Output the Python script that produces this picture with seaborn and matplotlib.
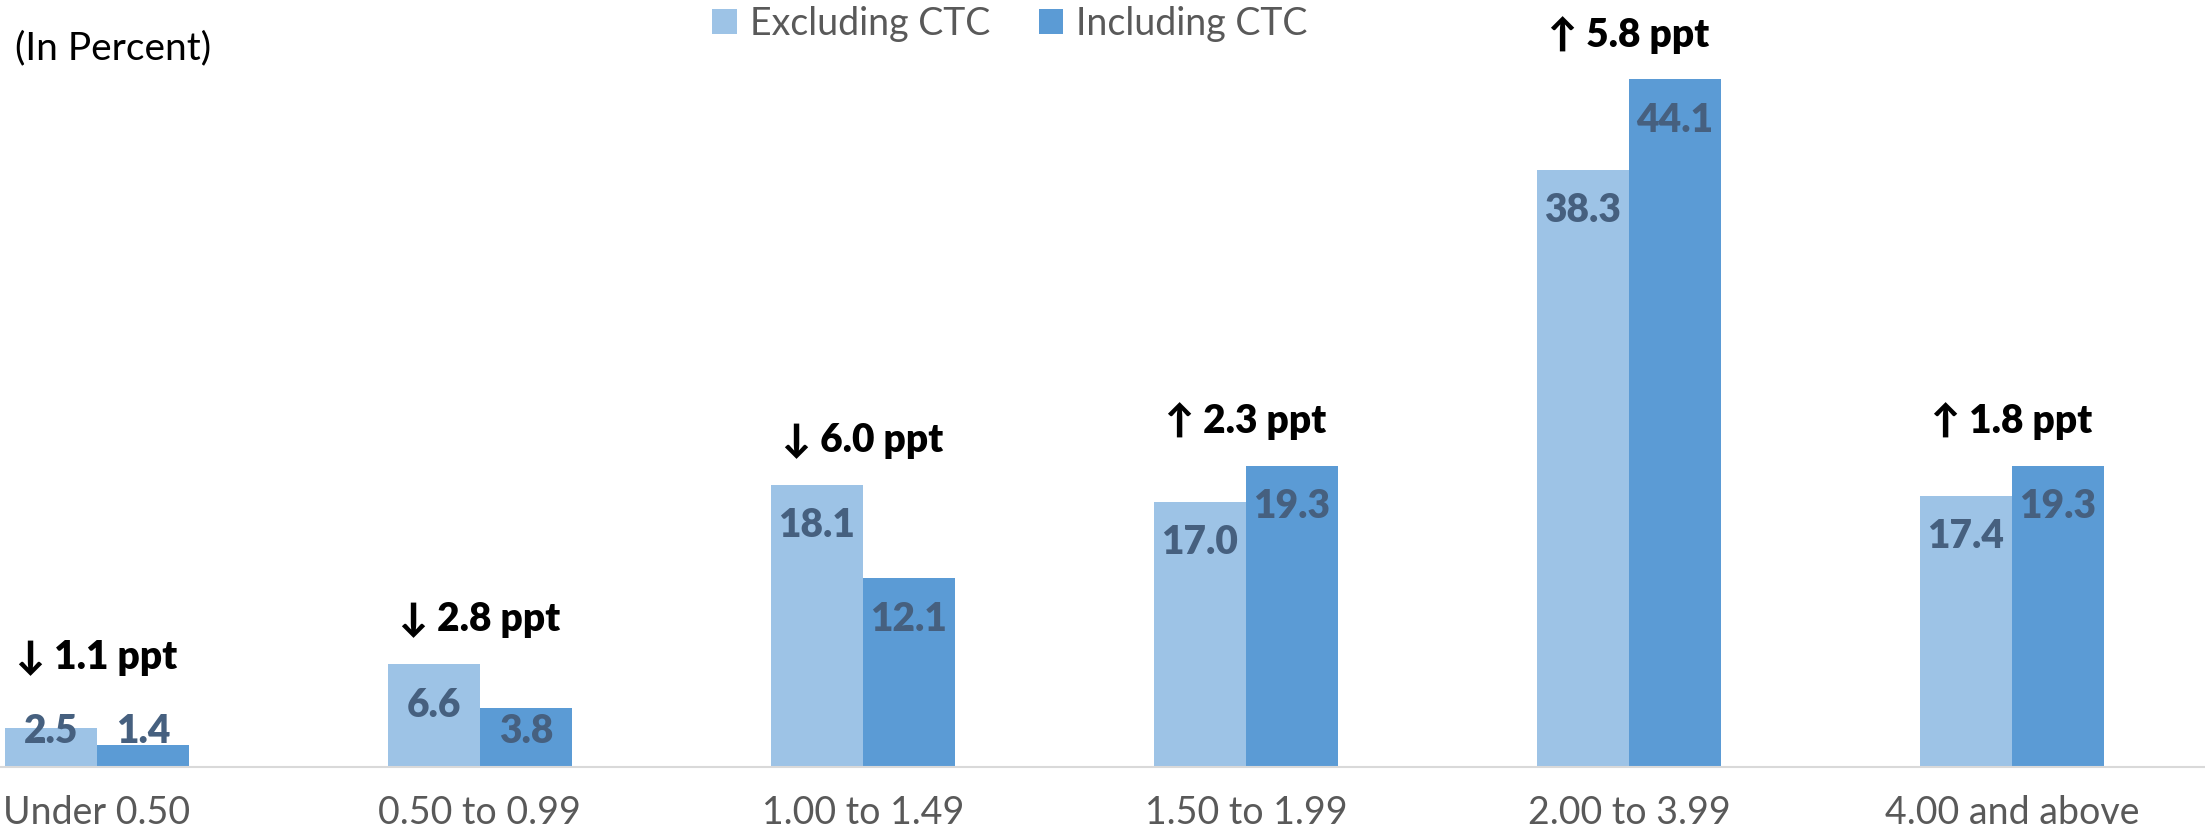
import matplotlib
matplotlib.use("Agg")
import matplotlib.pyplot as plt
from matplotlib.patches import Patch
import pandas as pd
import seaborn as sns

# Income-to-poverty ratio brackets and share of children in each (percent)
brackets = ["Under 0.50", "0.50 to 0.99", "1.00 to 1.49", "1.50 to 1.99",
            "2.00 to 3.99", "4.00 and above"]
excluding_ctc = [2.5, 6.6, 18.1, 17.0, 38.3, 17.4]
including_ctc = [1.4, 3.8, 12.1, 19.3, 44.1, 19.3]
ppt_change = [-1.1, -2.8, -6.0, 2.3, 5.8, 1.8]
series_names = ["Excluding CTC", "Including CTC"]

LIGHT = "#9DC3E6"
DARK = "#5B9BD5"
LABEL_BLUE = "#46607F"
GREY_TEXT = "#595959"

sns.set_theme(style="white")
plt.rcParams["font.family"] = ["Lato", "DejaVu Sans"]

df = pd.DataFrame({
    "bracket": brackets * 2,
    "share": excluding_ctc + including_ctc,
    "series": [series_names[0]] * len(brackets) + [series_names[1]] * len(brackets),
})

W, H = 2205, 840
fig = plt.figure(figsize=(W / 100, H / 100), dpi=100)
base_px = 767
ax = fig.add_axes([0, (H - base_px) / H, 1, base_px / H])

sns.barplot(data=df, x="bracket", y="share", hue="series", order=brackets,
            hue_order=series_names, palette=[LIGHT, DARK], width=0.48,
            linewidth=0, saturation=1, legend=False, errorbar=None, ax=ax)

ax.set_xlim(-0.253, 5.504)
ax.set_ylim(0, base_px / 15.6)

# Value labels inside the top of each bar, kept above the baseline for short bars
for cont in ax.containers:
    for bar in cont:
        v = bar.get_height()
        cx = bar.get_x() + bar.get_width() / 2
        ty = max(v - 2.63, 2.3)
        ax.text(cx, ty, f"{v:.1f}", ha="center", va="center", fontsize=28,
                fontweight="heavy", color=LABEL_BLUE)

# Percentage-point change above each bracket
for i, (d, a, b) in enumerate(zip(ppt_change, excluding_ctc, including_ctc)):
    arrow = "\u2191" if d > 0 else "\u2193"
    ty = max(max(a, b) + 2.85, 7.05)
    ax.text(i, ty, f"{arrow} {abs(d):.1f} ppt", ha="center", va="center",
            fontsize=28, fontweight="heavy", color="black")

for side in ["left", "right", "top"]:
    ax.spines[side].set_visible(False)
ax.spines["bottom"].set_color("#D9D9D9")
ax.spines["bottom"].set_linewidth(1.5)
ax.set_yticks([])
ax.set_xlabel("")
ax.set_ylabel("")
ax.tick_params(axis="x", length=0, pad=20, labelsize=27, labelcolor=GREY_TEXT)

handles = [Patch(facecolor=LIGHT, edgecolor="none"),
           Patch(facecolor=DARK, edgecolor="none")]
fig.legend(handles, series_names, loc="center", bbox_to_anchor=(1010 / W, 1 - 24 / H),
           ncol=2, frameon=False, fontsize=27, labelcolor=GREY_TEXT,
           handlelength=0.65, handleheight=0.65, handletextpad=0.35,
           columnspacing=1.3, borderpad=0, borderaxespad=0)

fig.text(15 / W, 1 - 48 / H, "(In Percent)", ha="left", va="center",
         fontsize=28, color="black")

fig.savefig("out.png", dpi=100)
